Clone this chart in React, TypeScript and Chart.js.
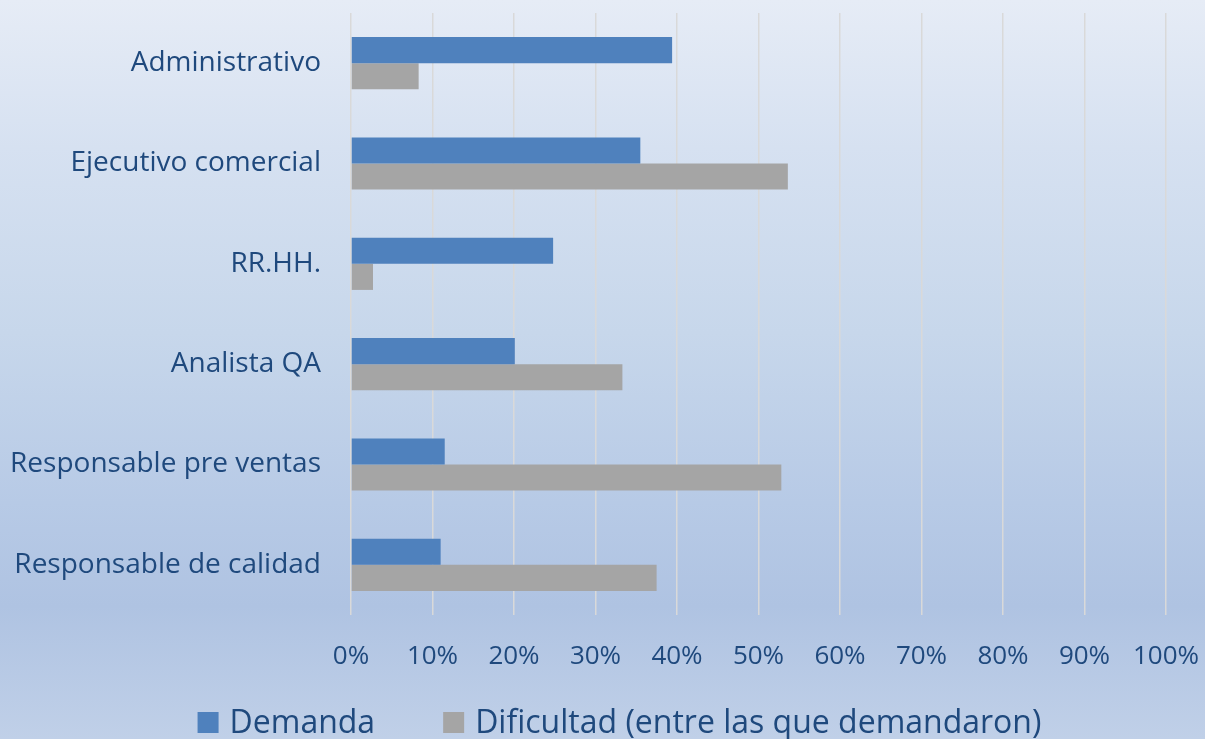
import React, { useEffect, useRef } from "react";
import { Chart, registerables } from "chart.js";

Chart.register(...registerables);

const categories = [
  "Administrativo",
  "Ejecutivo comercial",
  "RR.HH.",
  "Analista QA",
  "Responsable pre ventas",
  "Responsable de calidad",
];
const demanda = [0.394, 0.355, 0.248, 0.201, 0.115, 0.11];
const dificultad = [0.083, 0.536, 0.027, 0.333, 0.528, 0.375];
const seriesNames = ["Demanda", "Dificultad (entre las que demandaron)"];
const seriesColors = ["#4F81BD", "#A5A5A5"];
const xTickValues = [0, 0.1, 0.2, 0.3, 0.4, 0.5, 0.6, 0.7, 0.8, 0.9, 1];

const TEXT_COLOR = "#1F497D";
const FONT = "'Open Sans', 'DejaVu Sans', sans-serif";

const legendPlugin = {
  id: "bottomLegend",
  afterDraw(chart: any) {
    const ctx = chart.ctx as CanvasRenderingContext2D;
    ctx.save();
    ctx.font = `32px ${FONT}`;
    const box = 21;
    const gapText = 11;
    const gapItem = 68;
    const items = chart.data.datasets.map((ds: any) => ({
      text: ds.label as string,
      color: ds.backgroundColor as string,
      w: ctx.measureText(ds.label).width,
    }));
    const total =
      items.reduce((s: number, it: any) => s + box + gapText + it.w, 0) +
      gapItem * (items.length - 1);
    let x = 619.5 - total / 2;
    const baseline = 733;
    ctx.textBaseline = "alphabetic";
    ctx.textAlign = "left";
    items.forEach((it: any) => {
      ctx.fillStyle = it.color;
      ctx.fillRect(x, baseline - box, box, box);
      x += box + gapText;
      ctx.fillStyle = TEXT_COLOR;
      ctx.fillText(it.text, x, baseline);
      x += it.w + gapItem;
    });
    ctx.restore();
  },
};

export default function App() {
  const canvasRef = useRef<HTMLCanvasElement | null>(null);

  useEffect(() => {
    document.body.style.margin = "0";
    const canvas = canvasRef.current;
    if (!canvas) return;
    const chart = new Chart(canvas, {
      type: "bar",
      data: {
        labels: categories,
        datasets: [
          {
            label: seriesNames[0],
            data: demanda,
            backgroundColor: seriesColors[0],
            borderWidth: 0,
            categoryPercentage: 0.52,
            barPercentage: 1,
          },
          {
            label: seriesNames[1],
            data: dificultad,
            backgroundColor: seriesColors[1],
            borderWidth: 0,
            categoryPercentage: 0.52,
            barPercentage: 1,
          },
        ],
      },
      options: {
        indexAxis: "y",
        responsive: false,
        animation: false,
        layout: { padding: { top: 13, left: 0, right: 39, bottom: 39 } },
        plugins: {
          legend: { display: false },
          tooltip: { enabled: false },
        },
        scales: {
          x: {
            min: 0,
            max: 1,
            afterBuildTicks: (scale: any) => {
              scale.ticks = xTickValues.map((v) => ({ value: v }));
            },
            afterFit: (scale: any) => {
              scale.paddingLeft = 0;
              scale.paddingRight = 0;
              scale.height = 85;
            },
            ticks: {
              padding: 26,
              color: TEXT_COLOR,
              font: { family: FONT, size: 26 },
              callback: (v: any) => `${Math.round(Number(v) * 100)}%`,
              maxRotation: 0,
              autoSkip: false,
            },
            grid: { color: "#D9D9D9", lineWidth: 1.5, drawTicks: false },
            border: { display: false },
          },
          y: {
            afterFit: (scale: any) => {
              scale.width = 351;
              scale.paddingTop = 0;
              scale.paddingBottom = 0;
            },
            ticks: {
              padding: 30,
              color: TEXT_COLOR,
              font: { family: FONT, size: 28 },
            },
            grid: { display: false, drawTicks: false },
            border: { display: false },
          },
        },
      },
      plugins: [legendPlugin],
    });
    return () => chart.destroy();
  }, []);

  return (
    <div
      style={{
        width: 1205,
        height: 739,
        background:
          "linear-gradient(to bottom, #E6ECF6 0%, #D6E1F1 20%, #C7D7EB 45%, #B7CAE6 68%, #AFC3E2 82%, #C0D0E8 100%)",
      }}
    >
      <canvas ref={canvasRef} width={1205} height={739} style={{ display: "block" }} />
    </div>
  );
}
